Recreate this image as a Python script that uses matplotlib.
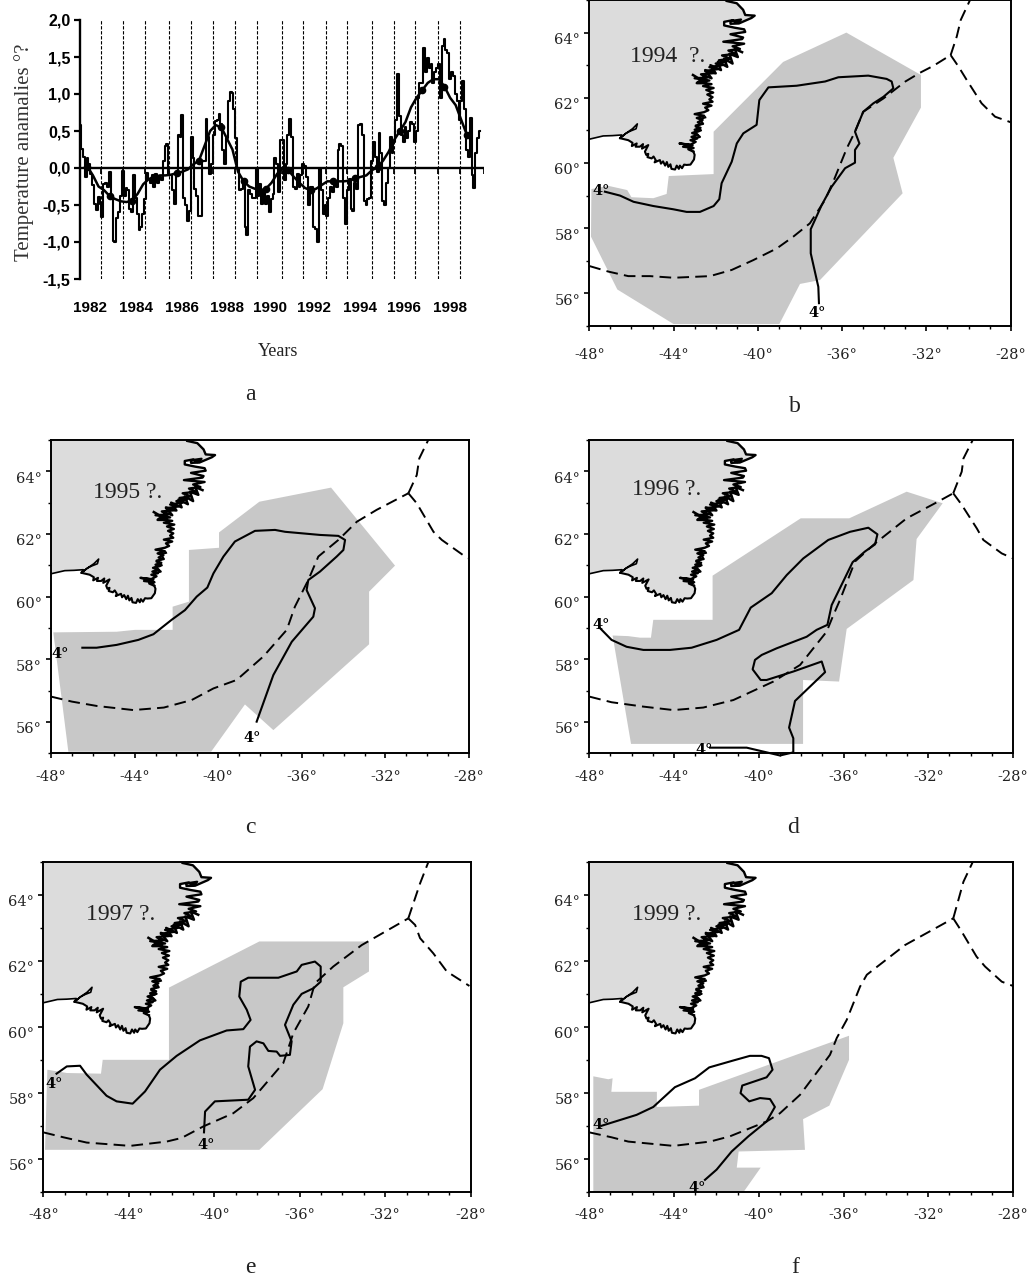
import numpy as np
import matplotlib
matplotlib.use('Agg')
import matplotlib.pyplot as plt
from matplotlib.ticker import MultipleLocator, FixedLocator, FuncFormatter
from matplotlib.transforms import ScaledTranslation

W, H = 1034, 1280
SHADE = '#c8c8c8'
LAND = '#dcdcdc'

# monthly temperature anomalies, one row per year
anom_1982 = [.58, .26, .15, -.12, .13, .05, -.08, -.23, -.48, -.57, -.39, -.48]
anom_1983 = [-.66, -.22, -.2, -.25, -.05, -.38, -.98, -1.0, -.67, -.6, -.38, -.04]
anom_1984 = [-.38, -.27, -.3, -.55, -.6, -.1, -.4, -.62, -.84, -.8, -.62, -.42]
anom_1985 = [-.07, -.15, -.2, -.1, -.25, -.08, -.2, -.12, -.16, .1, .3, .33]
anom_1986 = [-.1, -.1, -.3, -.48, -.1, .45, .42, .72, -.4, -.5, -.72, -.58]
anom_1987 = [.42, .13, -.28, -.38, -.65, -.65, .1, .1, .66, .42, -.08, .05]
anom_1988 = [.45, .63, .65, .73, .6, .25, .05, .4, .9, 1.03, 1.02, .8]
anom_1989 = [.41, 0, -.3, -.28, -.18, -.8, -.9, -.3, -.35, -.4, -.4, -.02]
anom_1990 = [-.38, -.22, -.48, -.3, -.48, -.38, -.6, -.42, -.35, .14, .05, -.33]
anom_1991 = [.38, .38, -.16, .05, .45, .66, .42, -.25, -.28, -.08, -.25, -.1]
anom_1992 = [.05, .03, -.12, -.5, -.25, -.25, -.8, -.82, -1.0, -.02, -.3, -.62]
anom_1993 = [-.5, -.65, -.4, -.25, -.32, -.2, -.25, .25, .33, .3, -.4, -.76]
anom_1994 = [-.3, -.15, -.55, -.58, -.2, -.28, .58, .6, .45, -.45, -.5, -.42]
anom_1995 = [-.4, .1, .35, .15, -.05, .47, .2, -.45, -.5, -.2, 0, .42]
anom_1996 = [.2, .35, .65, 1.27, .7, .45, .35, .55, .4, .5, .62, .6]
anom_1997 = [.35, .5, .95, 1.15, 1.15, 1.62, 1.3, 1.48, 1.35, 1.4, 1.15, 1.3]
anom_1998 = [1.35, 1.4, .95, 1.65, 1.75, 1.6, 1.55, 1.2, 1.3, 1.25, 1.0, .9]
anom_1999 = [.65, .9, 1.18, .8, .25, .15, .68, -.1, -.27, .2, .4, .5]
anomalies = (anom_1982 + anom_1983 + anom_1984 + anom_1985 + anom_1986 + anom_1987
             + anom_1988 + anom_1989 + anom_1990 + anom_1991 + anom_1992 + anom_1993
             + anom_1994 + anom_1995 + anom_1996 + anom_1997 + anom_1998 + anom_1999)

# smoothed curve, quarterly from 1982.33
smooth_vals = [.02, -.1, -.25, -.3, -.38, -.42, -.45, -.46, -.44, -.35, -.22, -.15, -.12, -.1,
               -.1, -.09, -.07, -.05, -.02, .05, .1, .3, .5, .58, .55, .4, .25, -.05, -.18,
               -.25, -.28, -.3, -.28, -.2, -.08, 0, -.03, -.12, -.2, -.27, -.3, -.28, -.23,
               -.18, -.18, -.18, -.18, -.17, -.14, -.12, -.1, -.03, .01, .1, .22, .38, .5,
               .62, .82, .95, 1.05, 1.15, 1.2, 1.2, 1.1, .95, .85, .65, .45]

year_lines = [1982.96, 1983.94, 1984.93, 1986.0, 1986.99, 1987.98, 1988.96, 1989.95, 1991.03,
              1992.01, 1993.0, 1993.98, 1995.06, 1996.05, 1997.03, 1998.02, 1999.01]
year_labels = ['1982', '1984', '1986', '1988', '1990', '1992', '1994', '1996', '1998']
year_label_pos = [1982.45, 1984.51, 1986.57, 1988.58, 1990.51, 1992.48, 1994.55, 1996.52, 1998.58]
anom_ticks = [-1.5, -1.0, -.5, 0, .5, 1.0, 1.5, 2.0]

# Greenland coast, shared by all the maps: west and south shore, then the jagged east shore
south_lon = [-48, -47.34, -46.9, -46.46, -46.54, -46.26, -45.95, -45.72, -45.78, -46.05, -46.26, -46.54,
             -46.15, -45.95, -45.98, -45.75, -45.8, -45.6, -45.45, -45.5, -45.2, -45.36, -45.3, -45.2, -45.24,
             -45.04, -44.95, -44.85, -44.9, -44.65, -44.6, -44.5, -44.4, -44.32, -44.25, -44.15, -44.1, -43.93,
             -43.85, -43.75, -43.7, -43.6, -43.5, -43.38, -43.2, -43.03, -43.0, -43.06]
south_lat = [60.73, 60.83, 60.84, 60.86, 60.76, 60.91, 61.05, 61.2, 61.05, 60.98, 60.91, 60.76,
             60.7, 60.62, 60.52, 60.6, 60.5, 60.5, 60.58, 60.44, 60.55, 60.35, 60.25, 60.28, 60.18,
             60.14, 60.2, 60.09, 60.02, 60.09, 59.98, 60.05, 59.92, 60.03, 59.88, 59.96, 59.82, 59.8,
             59.92, 59.82, 59.92, 59.84, 59.95, 59.94, 59.95, 60.11, 60.25, 60.35]
east_lon = [-43.3, -43.05, -43.55, -43.1, -43.72, -43.2, -42.95, -43.2, -42.88, -43.15, -42.85, -43.12,
            -42.78, -43.0, -42.72, -42.95, -42.7, -42.85, -42.62, -42.9, -42.55, -43.0, -42.55, -42.35,
            -42.5, -42.2, -42.6, -42.15, -42.3, -42.15, -42.4, -42.12, -42.45, -42.1, -42.6, -42.2, -42.85,
            -42.3, -43.0, -42.4, -42.7, -42.05, -42.5, -41.9, -42.3, -41.7, -42.0, -41.5, -41.85, -41.3,
            -41.7, -41.05, -41.4, -40.85, -41.2, -40.65, -41.64, -40.75, -40.7, -41.3, -40.6, -40.65, -41.1,
            -41.6, -41.6, -41.2, -41.0, -40.8, -41.3, -41.3, -40.9, -40.3, -40.15, -40.6, -40.7, -41, -41.48]
east_lat = [60.42, 60.46, 60.5, 60.54, 60.6, 60.56, 60.65, 60.7, 60.75, 60.8, 60.86, 60.92,
            60.98, 61.02, 61.08, 61.12, 61.2, 61.25, 61.32, 61.38, 61.45, 61.5, 61.56, 61.62,
            61.7, 61.76, 61.82, 61.88, 61.95, 62.02, 62.1, 62.16, 62.24, 62.3, 62.36, 62.42, 62.48,
            62.53, 62.6, 62.62, 62.72, 62.76, 62.82, 62.88, 62.94, 63.0, 63.05, 63.1, 63.15, 63.2,
            63.3, 63.35, 63.45, 63.5, 63.58, 63.66, 63.72, 63.8, 63.85, 63.95, 64.02, 64.1, 64.15,
            64.22, 64.33, 64.38, 64.3, 64.4, 64.35, 64.27, 64.28, 64.45, 64.52, 64.54, 64.7, 64.9, 64.97]
coast_lon = south_lon + east_lon
coast_lat = south_lat + east_lat
# skerries and fjord scribble along the east shore
skerry_low_lon = [-43.05, -42.75, -43.0, -42.7, -42.95, -42.6, -42.75, -42.5]
skerry_low_lat = [60.75, 60.8, 60.95, 61.0, 61.15, 61.2, 61.35, 61.4]
skerry_high_lon = [-43.08, -42.7, -42.9, -42.45, -42.6, -42.2, -42.5, -42.0, -42.25, -41.75, -41.9, -41.45,
                   -41.6, -41.2, -41.35, -40.95, -41.1, -40.75]
skerry_high_lat = [62.7, 62.55, 62.45, 62.45, 62.7, 62.6, 62.85, 62.75, 63.0, 62.85, 63.1, 62.95,
                   63.2, 63.05, 63.35, 63.25, 63.5, 63.4]

# panel b, 1994
shade_b_lon = [-47.9, -47.1, -46.2, -46, -44.96, -44.33, -44.23, -42.1, -42.1, -38.8, -35.8, -32.26, -32.26,
               -33.57, -33.13, -37.05, -38, -38.98, -44, -46.67, -47.92]
shade_b_lat = [59.2, 59.3, 59.17, 58.95, 58.92, 59.05, 59.6, 59.66, 60.96, 63.1, 64, 62.7, 61.7,
               60.16, 59.07, 56.41, 56.29, 55.06, 55.06, 56.12, 57.74]
iso_b_lon = [-47.26, -46.54, -45.9, -44.96, -44.01, -43.38, -42.75, -42.1, -41.83, -41.72, -41.24, -41, -40.69,
             -40.06, -39.93, -39.5, -38.16, -36.81, -36.18, -34.76, -33.89, -33.65, -33.57, -34.04, -34.52, -35,
             -35.39, -35.18, -35.39, -35.39, -35.86, -36.5, -36.97, -37.49, -37.49, -37.13, -37.1]
iso_b_lat = [59.12, 59, 58.81, 58.68, 58.58, 58.5, 58.5, 58.68, 58.89, 59.38, 60.04, 60.6, 60.91,
             61.17, 61.93, 62.32, 62.37, 62.5, 62.63, 62.68, 62.58, 62.5, 62.29, 62.03, 61.83, 61.57,
             60.96, 60.6, 60.4, 60.01, 59.84, 59.27, 58.71, 57.97, 57.23, 56.2, 55.7]
front_b_lon = [-48, -47.1, -46.15, -45.12, -44, -42.27, -41.24, -40.22, -39.1, -38.32, -37.53, -36.81, -36.42,
               -35.78, -35.39, -35, -34.04, -33, -32.3, -31.67, -30.85]
front_b_lat = [56.84, 56.67, 56.53, 56.53, 56.48, 56.53, 56.72, 57.02, 57.38, 57.74, 58.15, 58.87, 59.43,
               60.45, 60.96, 61.57, 61.98, 62.5, 62.77, 62.98, 63.31]
north_b_lon = [-30.85, -30.56, -30.37, -29.93]
north_b_lat = [63.31, 63.88, 64.39, 65.0]
east_b_lon = [-30.85, -30.48, -30.09, -29.38, -28.74, -28]
east_b_lat = [63.31, 62.96, 62.55, 61.83, 61.42, 61.25]

# panel c, 1995
shade_c_lon = [-47.89, -44.86, -43.98, -42.18, -42.18, -41.4, -41.4, -39.96, -39.96, -38.03, -34.6, -31.54, -32.78,
               -32.78, -37.36, -38.72, -40.34, -47.17]
shade_c_lat = [58.86, 58.88, 58.94, 58.94, 59.68, 59.84, 61.49, 61.56, 62.05, 63.03, 63.48, 60.99, 60.16,
               58.48, 55.74, 56.56, 55.05, 55.05]
iso_c_lon = [-46.5, -45.82, -44.86, -43.82, -43.1, -42.23, -41.59, -41.03, -40.52, -40.23, -39.75, -39.2, -38.24,
             -37.28, -36.8, -35.13, -34.25, -33.93, -34.01, -34.33, -35.13, -35.69, -35.77, -35.37, -35.45, -36.48,
             -37.36, -38.16]
iso_c_lat = [58.37, 58.37, 58.46, 58.62, 58.8, 59.26, 59.57, 60, 60.29, 60.74, 61.28, 61.76, 62.1,
             62.13, 62.07, 61.97, 61.94, 61.81, 61.49, 61.28, 60.8, 60.53, 60.21, 59.63, 59.36, 58.56,
             57.5, 56.01]
front_c_lon = [-48, -47, -45.8, -44.06, -42.6, -41.27, -40.23, -39.12, -37.84, -36.72, -36.33, -35.69, -35.21,
               -34.25, -33.37, -32.42, -30.9]
front_c_lat = [56.81, 56.65, 56.51, 56.38, 56.46, 56.7, 57.07, 57.34, 58.09, 58.94, 59.68, 60.53, 61.28,
               61.81, 62.39, 62.77, 63.3]
north_c_lon = [-30.9, -30.5, -30.38, -29.95]
north_c_lat = [63.3, 63.88, 64.41, 65]
east_c_lon = [-30.9, -30.5, -29.7, -29.3, -28.06]
east_c_lat = [63.3, 62.98, 62.07, 61.81, 61.22]

# panel d, 1996
shade_d_lon = [-46.9, -46.16, -45.6, -45.09, -44.98, -42.18, -42.18, -38.02, -35.73, -33.02, -31.32, -32.55, -32.7,
               -35.85, -36.21, -37.91, -37.91, -46.03]
shade_d_lat = [58.76, 58.74, 58.69, 58.69, 59.26, 59.26, 60.67, 62.5, 62.5, 63.35, 62.98, 61.84, 60.53,
               58.97, 57.29, 57.34, 55.3, 55.3]
iso_d_lon = [-47.53, -46.95, -46.24, -45.45, -44.19, -43.17, -41.99, -40.93, -40.38, -39.39, -38.68, -37.9, -36.72,
             -35.69, -34.83, -34.4, -34.51, -34.99, -35.57, -36.56, -36.76, -37.27, -37.74, -39.16, -39.86, -40.18,
             -40.29, -39.91, -39.63, -38.37, -37.03, -36.87, -38.29, -38.57, -38.37, -38.37, -39, -40.57, -42.3]
iso_d_lat = [59.02, 58.62, 58.4, 58.3, 58.3, 58.37, 58.62, 58.94, 59.65, 60.11, 60.69, 61.22, 61.81,
             62.07, 62.2, 61.99, 61.67, 61.44, 61.1, 59.73, 59.1, 58.94, 58.72, 58.35, 58.14, 57.98,
             57.68, 57.34, 57.34, 57.61, 57.93, 57.59, 56.67, 55.82, 55.48, 55.03, 54.93, 55.18, 55.18]
front_d_lon = [-48, -46.95, -45.45, -44.03, -42.62, -41.2, -39.31, -38.05, -36.8, -36.48, -36.17, -35.46, -34.51,
               -33.02, -31.6, -30.82]
front_d_lat = [56.81, 56.63, 56.49, 56.38, 56.46, 56.7, 57.29, 57.82, 58.88, 59.41, 59.89, 61.12, 61.7,
               62.5, 63.01, 63.3]
north_d_lon = [-30.82, -30.42, -30.34, -29.9]
north_d_lat = [63.3, 63.99, 64.41, 65]
east_d_lon = [-30.82, -30.42, -29.71, -29.4, -28.53, -28]
east_d_lat = [63.3, 62.93, 62.18, 61.81, 61.38, 61.22]

# panel e, 1997
shade_e_lon = [-47.81, -46.9, -45.3, -45.22, -42.12, -42.12, -37.89, -32.76, -32.76, -33.96, -33.96, -34.93, -37.89,
               -47.92]
shade_e_lat = [58.7, 58.6, 58.58, 59, 59, 61.19, 62.59, 62.59, 61.68, 61.2, 60.11, 58.11, 56.27,
               56.27]
iso_e_lon = [-47.38, -46.9, -46.28, -45.97, -45.04, -44.57, -43.82, -43.24, -42.54, -41.76, -40.67, -39.42, -38.64,
             -38.3, -38.48, -38.83, -38.76, -38.41, -37, -36.14, -35.91, -35.29, -35.02, -35.02, -35.36, -35.91,
             -36.3, -36.69, -36.38, -36.46, -36.92, -37.08, -37.47, -37.7, -38.02, -38.33, -38.41, -38.09, -38.41,
             -39.97, -40.43, -40.48]
iso_e_lat = [58.58, 58.8, 58.82, 58.55, 57.91, 57.74, 57.67, 58.04, 58.7, 59.12, 59.59, 59.89, 59.93,
             60.21, 60.52, 60.92, 61.37, 61.49, 61.49, 61.68, 61.88, 61.98, 61.83, 61.37, 61.17, 61,
             60.67, 60.06, 59.56, 59.15, 59.12, 59.25, 59.27, 59.5, 59.56, 59.4, 58.8, 58.09, 57.79,
             57.74, 57.43, 56.8]
front_e_lon = [-48, -47.06, -45.97, -43.94, -42.23, -41.53, -40.51, -39.11, -38.17, -36.77, -36.3, -35.6, -35.29,
               -34.43, -33.1, -30.92]
front_e_lat = [56.8, 56.65, 56.49, 56.39, 56.52, 56.63, 56.98, 57.38, 57.84, 58.9, 59.81, 60.62, 61.32,
               61.83, 62.48, 63.29]
north_e_lon = [-30.92, -30.37, -29.98]
north_e_lat = [63.29, 64.35, 65]
east_e_lon = [-30.92, -30.6, -30.37, -29.75, -29.12, -28.06]
east_e_lat = [63.29, 63.09, 62.69, 62.23, 61.68, 61.24]

# panel f, 1999
shade_f_lon = [-47.81, -47.1, -46.9, -46.96, -44.81, -44.81, -42.82, -42.82, -35.74, -35.74, -36.67, -37.91, -37.82,
               -40.95, -41.04, -39.91, -40.73, -47.81]
shade_f_lat = [58.5, 58.41, 58.44, 58.03, 58.03, 57.57, 57.61, 58.09, 59.73, 59, 57.61, 57.2, 56.27,
               56.22, 55.73, 55.73, 54.98, 54.98]
iso_f_lon = [-47.42, -45.77, -44.98, -43.96, -43.01, -42.34, -41.2, -40.42, -39.87, -39.52, -39.35, -39.63, -40.78,
             -40.86, -40.45, -39.94, -39.47, -39.24, -39.63, -40.49, -41.28, -41.99, -42.54]
iso_f_lat = [57, 57.33, 57.57, 58.17, 58.44, 58.77, 58.98, 59.12, 59.12, 59.05, 58.7, 58.47, 58.22,
             57.99, 57.74, 57.84, 57.81, 57.57, 57.13, 56.68, 56.22, 55.67, 55.36]
front_f_lon = [-48, -46.95, -46.16, -44.03, -42.3, -41.36, -39.63, -39, -38.05, -36.64, -36.32, -35.85, -35.22,
               -34.9, -33.1, -30.82]
front_f_lat = [56.8, 56.65, 56.52, 56.39, 56.52, 56.68, 57.13, 57.38, 57.94, 59.15, 59.66, 60.21, 61.22,
               61.58, 62.48, 63.29]
north_f_lon = [-30.82, -30.34, -29.9]
north_f_lat = [63.29, 64.4, 65]
east_f_lon = [-30.82, -30.47, -29.72, -29.32, -28.53, -28]
east_f_lat = [63.29, 62.94, 62.13, 61.83, 61.37, 61.24]

fig = plt.figure(figsize=(W / 100, H / 100), dpi=100, facecolor='white')


def px_axes(left, top, right, bottom):
    return fig.add_axes([left / W, 1 - bottom / H, (right - left) / W, (bottom - top) / H])


def px_text(x, y, s, **kw):
    fig.text(x / W, 1 - y / H, s, **kw)


def draw_map(box, title, text_xy, shade, iso, front, north, east, marks, label_drop=27):
    ax = px_axes(*box)
    ax.set_xlim(-48, -28)
    ax.set_ylim(55, 65)
    ax.fill(coast_lon + [-48], coast_lat + [65], color=LAND, lw=0, zorder=1)
    ax.fill(shade[0], shade[1], color=SHADE, lw=0, zorder=1)
    ax.plot(south_lon[:12], south_lat[:12], color='black', lw=1.2, zorder=3)
    ax.plot(south_lon[11:], south_lat[11:], color='black', lw=1.5, zorder=3)
    ax.plot(south_lon[-1:] + east_lon, south_lat[-1:] + east_lat, color='black', lw=1.7, zorder=3)
    ax.plot(skerry_low_lon, skerry_low_lat, color='black', lw=1.6, zorder=3)
    ax.plot(skerry_high_lon, skerry_high_lat, color='black', lw=1.8, zorder=3)
    for lon, lat in (front, north, east):
        ax.plot(lon, lat, color='black', lw=1.4, dashes=(6, 3.2), zorder=3)
    ax.plot(iso[0], iso[1], color='black', lw=1.5, zorder=4, clip_on=False)
    for lon, lat in marks:
        ax.text(lon, lat, '4°', family='DejaVu Serif', weight='bold', fontsize=10.5,
                ha='center', va='center', zorder=5)
    ax.text(text_xy[0], text_xy[1], title, family='Liberation Serif', fontsize=17, color='#222222',
            zorder=5, va='baseline')

    ax.xaxis.set_major_locator(MultipleLocator(4))
    ax.xaxis.set_minor_locator(MultipleLocator(1))
    ax.yaxis.set_major_locator(FixedLocator([56, 58, 60, 62, 64]))
    ax.yaxis.set_minor_locator(MultipleLocator(1))
    ax.xaxis.set_major_formatter(FuncFormatter(lambda v, p: f'{v:.0f}°'))
    ax.yaxis.set_major_formatter(FuncFormatter(lambda v, p: f'{v:.0f}°'))
    ax.tick_params(which='major', length=3.5, width=1.2, labelsize=10.5, labelcolor='#222222')
    ax.tick_params(which='minor', length=2, width=1.0)
    ax.tick_params(axis='x', which='major', pad=label_drop * 0.72 - 11)
    ax.tick_params(axis='y', which='major', pad=3)
    for lab in ax.get_xticklabels() + ax.get_yticklabels():
        lab.set_family('DejaVu Serif')
    shift = ScaledTranslation(0, -6 / 100, fig.dpi_scale_trans)
    for lab in ax.get_yticklabels():
        lab.set_transform(lab.get_transform() + shift)
    for sp in ax.spines.values():
        sp.set_linewidth(1.4)
    return ax


# panel a
ax = px_axes(80, 20, 484, 279)
ax.set_xlim(1982, 2000.1)
ax.set_ylim(-1.5, 2.0)
months = 1982 + np.arange(len(anomalies)) / 12
smooth_x = 1982.33 + np.arange(len(smooth_vals)) / 4
ax.vlines(year_lines, -1.5, 2.0, color='black', lw=0.8, linestyles=(0, (3, 1.5)), zorder=1)
ax.vlines(year_lines + [2000.1], -.08, 0, color='black', lw=1.3, zorder=4)
ax.plot(months, anomalies, color='black', lw=1.5, drawstyle='steps-mid', zorder=2)
ax.plot(smooth_x, smooth_vals, color='black', lw=1.8, marker='o', ms=4.5, markevery=4, zorder=3)
ax.axhline(0, color='black', lw=1.7, zorder=4)
for side in ('top', 'right', 'bottom'):
    ax.spines[side].set_visible(False)
ax.spines['left'].set_linewidth(1.7)
ax.set_yticks(anom_ticks)
ax.set_yticklabels([f'{v:.1f}'.replace('.', ',') for v in anom_ticks], family='Liberation Sans', weight='bold',
                   fontsize=11.5)
ax.tick_params(axis='y', length=4, width=1.6, pad=3)
ax.set_xticks(year_label_pos)
ax.set_xticklabels(year_labels, family='Liberation Sans', weight='bold', fontsize=11)
ax.tick_params(axis='x', length=0, pad=16)

px_text(24, 152, 'Temperature anamalies °?', family='Liberation Serif', fontsize=15, rotation=90,
        ha='center', va='center', color='#333333')
px_text(278, 351, 'Years', family='Liberation Serif', fontsize=13, ha='center', va='center', color='#222222')

# map panels
draw_map((589.3, 0, 1010.7, 326), '1994  ?.', (-46.05, 63.1),
         (shade_b_lon, shade_b_lat), (iso_b_lon, iso_b_lat), (front_b_lon, front_b_lat),
         (north_b_lon, north_b_lat), (east_b_lon, east_b_lat), [(-47.46, 59.15), (-37.18, 55.39)], label_drop=32)
draw_map((51, 440, 469, 753.3), '1995 ?.', (-46.0, 63.15),
         (shade_c_lon, shade_c_lat), (iso_c_lon, iso_c_lat), (front_c_lon, front_c_lat),
         (north_c_lon, north_c_lat), (east_c_lon, east_c_lat), [(-47.57, 58.16), (-38.4, 55.48)])
draw_map((589.3, 440, 1013, 753.3), '1996 ?.', (-46.0, 63.25),
         (shade_d_lon, shade_d_lat), (iso_d_lon, iso_d_lat), (front_d_lon, front_d_lat),
         (north_d_lon, north_d_lat), (east_d_lon, east_d_lat), [(-47.46, 59.1), (-42.6, 55.1)])
draw_map((43.3, 862, 470.7, 1191.7), '1997 ?.', (-46.0, 63.25),
         (shade_e_lon, shade_e_lat), (iso_e_lon, iso_e_lat), (front_e_lon, front_e_lat),
         (north_e_lon, north_e_lat), (east_e_lon, east_e_lat), [(-47.5, 58.26), (-40.36, 56.42)])
draw_map((589.3, 862, 1013, 1191.7), '1999 ?.', (-46.0, 63.25),
         (shade_f_lon, shade_f_lat), (iso_f_lon, iso_f_lat), (front_f_lon, front_f_lat),
         (north_f_lon, north_f_lat), (east_f_lon, east_f_lat), [(-47.46, 57.03), (-42.93, 55.11)])

# panel letters
for x, y, s in [(250, 400, 'a'), (795, 412, 'b'), (250, 833, 'c'), (793, 833, 'd'), (250, 1273, 'e'), (795, 1273, 'f')]:
    px_text(x, y, s, family='Liberation Serif', fontsize=17, ha='center', va='baseline', color='#222222')

fig.savefig('out.png', dpi=100, facecolor='white')
